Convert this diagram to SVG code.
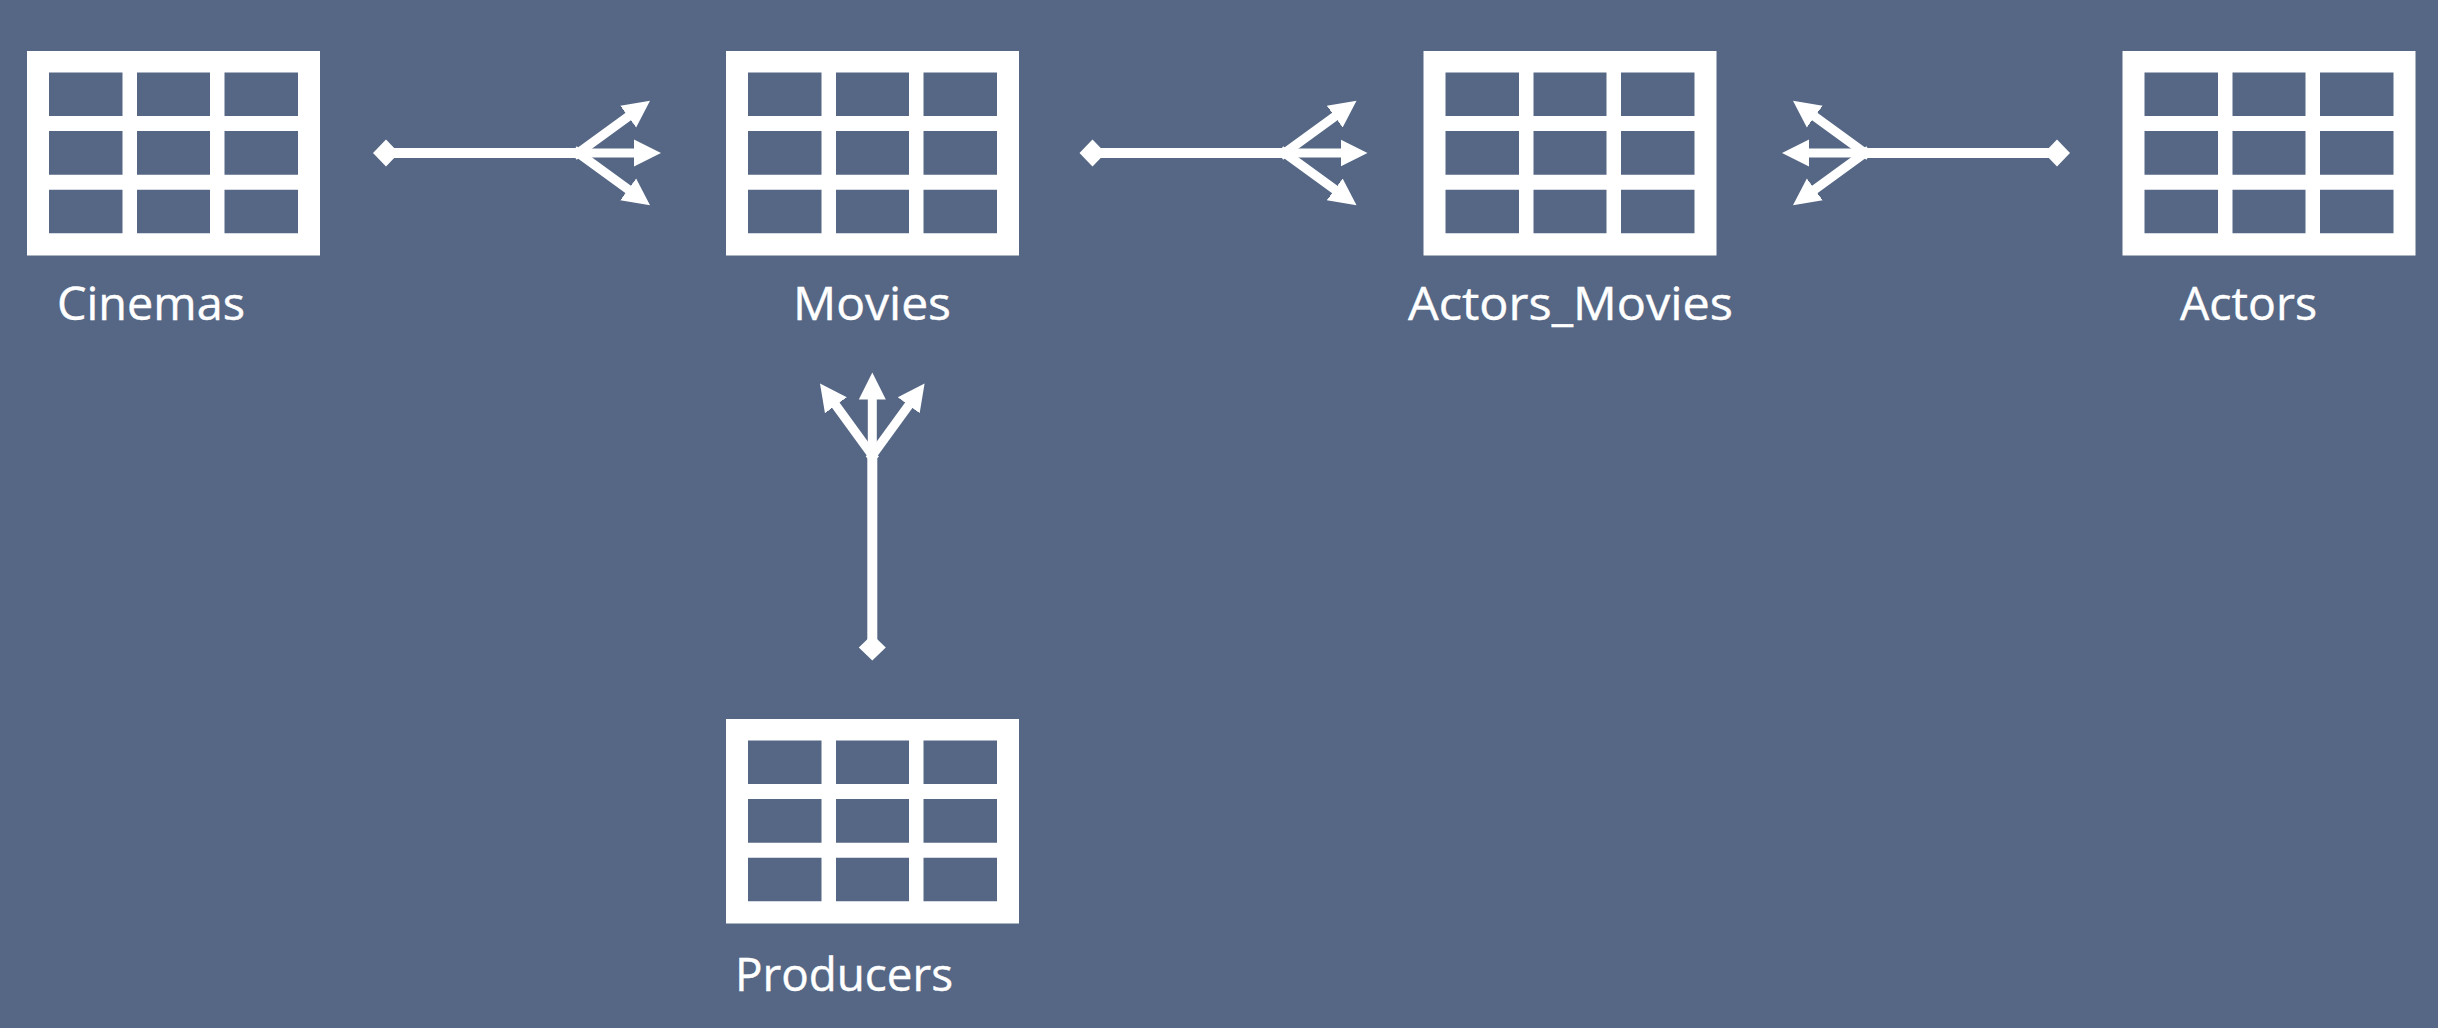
<svg xmlns="http://www.w3.org/2000/svg" width="2438" height="1028" viewBox="0 0 2438 1028">
<style>
.label{font-family:"Open Sans","Noto Sans","Liberation Sans",sans-serif;font-size:46px;fill:#fff;stroke:#fff;stroke-width:.4}
.shaft{stroke:#fff;stroke-width:10;fill:none}
.branch{stroke:#fff;stroke-width:9;fill:none;marker-end:url(#head)}
</style>
<defs>
<marker id="head" markerUnits="userSpaceOnUse" markerWidth="30" markerHeight="30" viewBox="0 -15 30 30" refX="1" refY="0" orient="auto"><path d="M0,-13.5L27,0L0,13.5Z" fill="#fff"/></marker>
<path id="table" fill="#fff" fill-rule="evenodd" d="M0,0H293V204.5H0Z M22,21.5V65H95.5V21.5Z M110,21.5V65H183V21.5Z M197.5,21.5V65H271V21.5Z M22,80V123.7H95.5V80Z M110,80V123.7H183V80Z M197.5,80V123.7H271V80Z M22,138.8V182.3H95.5V138.8Z M110,138.8V182.3H183V138.8Z M197.5,138.8V182.3H271V138.8Z"/>
<g id="crow">
<path d="M-13,0L0,-13.5L13,0L0,13.5Z" fill="#fff"/>
<path class="shaft" d="M0,0H192"/>
<path class="branch" d="M188,0H249"/>
<path class="branch" d="M188,3L243,-37"/>
<path class="branch" d="M188,-3L243,37"/>
</g>
</defs>
<rect width="2438" height="1028" fill="#556785"/>
<g id="connectors">
<use id="cinemas-movies" href="#crow" transform="translate(386,153)"/>
<use id="movies-actors-movies" href="#crow" transform="translate(1092.5,153)"/>
<use id="actors-actors-movies" href="#crow" transform="translate(2057,153) scale(-1,1)"/>
<use id="producers-movies" href="#crow" transform="translate(872.3,647.5) rotate(-90)"/>
</g>
<g id="cinemas"><use href="#table" x="27" y="51"/><text class="label" x="57" y="320" textLength="188" lengthAdjust="spacingAndGlyphs">Cinemas</text></g>
<g id="movies"><use href="#table" x="726" y="51"/><text class="label" x="793" y="320" textLength="158" lengthAdjust="spacingAndGlyphs">Movies</text></g>
<g id="actors-movies"><use href="#table" x="1423.5" y="51"/><text class="label" x="1408" y="320" textLength="325" lengthAdjust="spacingAndGlyphs">Actors_Movies</text></g>
<g id="actors"><use href="#table" x="2122.5" y="51"/><text class="label" x="2180" y="320" textLength="137" lengthAdjust="spacingAndGlyphs">Actors</text></g>
<g id="producers"><use href="#table" x="726" y="719"/><text class="label" x="735" y="991" textLength="218" lengthAdjust="spacingAndGlyphs">Producers</text></g>
</svg>
